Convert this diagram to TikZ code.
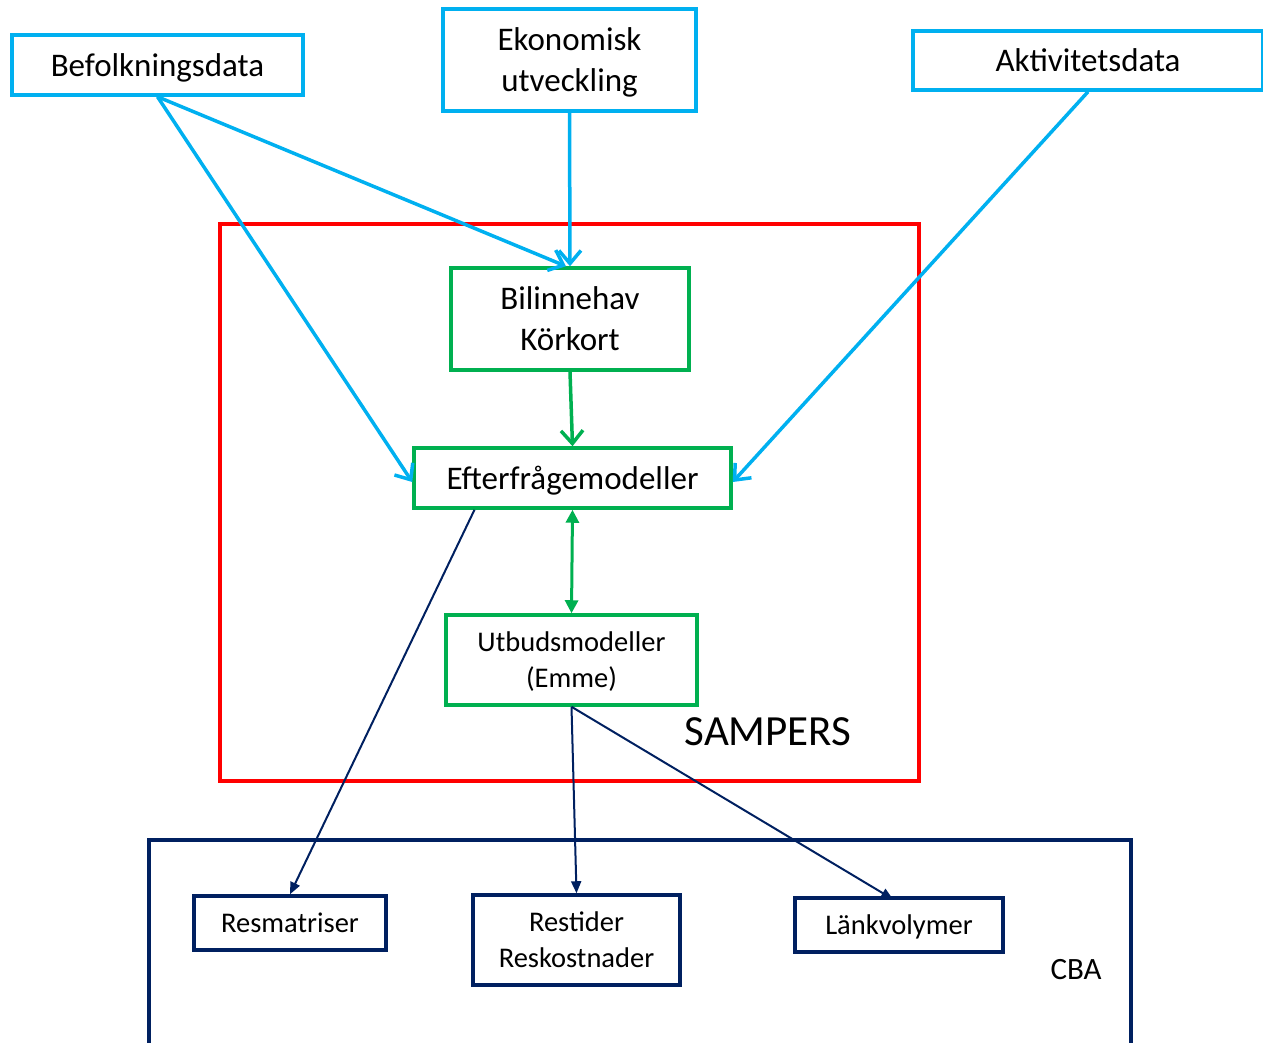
\documentclass[tikz,border=0pt]{standalone}
\usepackage{fontspec}
\setmainfont{Carlito}
\usetikzlibrary{arrows.meta,calc}
\definecolor{cyanb}{RGB}{0,176,240}
\definecolor{greenb}{RGB}{0,176,80}
\definecolor{navyb}{RGB}{0,32,96}
\definecolor{redb}{RGB}{255,0,0}
\tikzset{
  inbox/.style={draw=cyanb,line width=3.5pt,inner sep=0pt,text depth=0pt,align=center,font=\fontsize{33}{41}\selectfont},
  sbox/.style={draw=greenb,line width=3.5pt,inner sep=0pt,text depth=0pt,align=center,font=\fontsize{33}{41}\selectfont},
  cbox/.style={draw=navyb,line width=3.5pt,inner sep=0pt,text depth=0pt,align=center,font=\fontsize{28.5}{36}\selectfont},
  cyanarrow/.style={draw=cyanb,line width=3.5pt,-{Straight Barb[length=13pt,width=22pt,line width=3.5pt]}},
  greenarrow/.style={draw=greenb,line width=3.5pt,-{Straight Barb[length=13pt,width=22pt,line width=3.5pt]}},
  greendouble/.style={draw=greenb,line width=3pt,{Triangle[length=13pt,width=13pt]}-{Triangle[length=13pt,width=13pt]}},
  navyarrow/.style={draw=navyb,line width=2pt,-{Triangle[length=12pt,width=10pt]}},
}
\begin{document}
\begin{tikzpicture}[x=1pt,y=-1pt]
\useasboundingbox (0,0) rectangle (1263,1042);
% frames
\draw[draw=redb,line width=3.5pt] (220,224) rectangle (919,781);
\node[font=\fontsize{43}{50}\selectfont] (samp) at (768,732) {SAMPERS};
\draw[draw=navyb,line width=3.5pt] (149,1044) -- (149,840) -- (1131,840) -- (1131,1044);
\node[font=\fontsize{31}{36}\selectfont] (cba) at (1076,970) {CBA};
% input boxes
\node[inbox,minimum width=291pt,minimum height=60pt] (bef) at (157.5,65) {Befolkningsdata};
\node[inbox,minimum width=253pt,minimum height=102pt] (eko) at (569.5,60) {Ekonomisk\\utveckling};
\node[inbox,minimum width=350pt,minimum height=59pt] (akt) at (1088,60.5) {Aktivitetsdata};
% sampers boxes
\node[sbox,minimum width=238pt,minimum height=102pt] (bil) at (570,319) {Bilinnehav\\Körkort};
\node[sbox,minimum width=317pt,minimum height=60pt] (eft) at (572.5,478) {Efterfrågemodeller};
\node[sbox,minimum width=251pt,minimum height=90pt,font=\fontsize{28.5}{36}\selectfont] (utb) at (571.5,660) {Utbudsmodeller\\(Emme)};
% cba boxes
\node[cbox,minimum width=192pt,minimum height=54pt] (res) at (290,923) {Resmatriser};
\node[cbox,minimum width=207pt,minimum height=90pt] (rst) at (576.5,940) {Restider\\Reskostnader};
\node[cbox,minimum width=208pt,minimum height=54pt] (lnk) at (899,925) {Länkvolymer};
% connectors
\draw[cyanarrow] (bef.south) -- ([yshift=-4pt]eft.west);
\draw[cyanarrow] (bef.south) -- ([xshift=-4pt]bil.north);
\draw[cyanarrow] (eko.south) -- (bil.north);
\draw[cyanarrow] (akt.south) -- ([yshift=-4pt]eft.east);
\draw[greenarrow] (bil.south) -- (eft.north);
\draw[greendouble] (eft.south) -- (utb.north);
\draw[navyarrow] ([xshift=-98pt]eft.south) -- (res.north);
\draw[navyarrow] (utb.south) -- (rst.north);
\draw[navyarrow] (utb.south) -- ([xshift=-6pt,yshift=-3pt]lnk.north);
\end{tikzpicture}
\end{document}
